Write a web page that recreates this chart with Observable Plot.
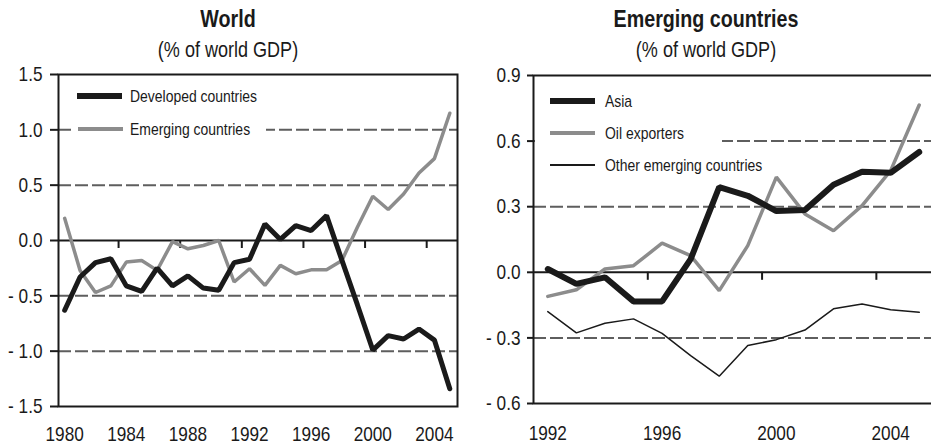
<!DOCTYPE html>
<html>
<head>
<meta charset="utf-8">
<script src="https://cdn.jsdelivr.net/npm/d3@7"></script>
<script src="https://cdn.jsdelivr.net/npm/@observablehq/plot@0.6"></script>
<style>
  html, body { margin: 0; padding: 0; background: #fff; overflow: hidden; }
  body { width: 931px; height: 447px; position: relative; font-family: "Liberation Sans", Arial, sans-serif; color: #1a1a1a; }
  .panel { position: absolute; top: 0; height: 447px; }
  .title { position: absolute; font-weight: bold; font-size: 24px; line-height: 1; text-align: center; white-space: nowrap; transform: scaleX(0.82); transform-origin: 50% 50%; }
  .subtitle { position: absolute; font-size: 22px; line-height: 1; text-align: center; white-space: nowrap; transform: scaleX(0.82); transform-origin: 50% 50%; }
  .chart { position: absolute; top: 62px; left: 0; }
  .legend { position: absolute; background: #fff; }
  .legend .sw { position: absolute; left: 0; width: 45px; }
  .legend .lab { position: absolute; font-size: 17px; line-height: 1; white-space: nowrap; transform: translateY(-50%) scaleX(0.82); transform-origin: 0 50%; }
</style>
</head>
<body>
<script>
// ---------- Data: World (% of world GDP) ----------
const worldYears = [1980,1981,1982,1983,1984,1985,1986,1987,1988,1989,1990,1991,1992,1993,1994,1995,1996,1997,1998,1999,2000,2001,2002,2003,2004,2005];
const developedCountries = [-0.63,-0.33,-0.20,-0.165,-0.41,-0.46,-0.25,-0.41,-0.32,-0.43,-0.45,-0.20,-0.17,0.15,0.01,0.135,0.09,0.225,-0.18,-0.58,-0.99,-0.86,-0.89,-0.80,-0.90,-1.34];
const emergingCountries = [0.20,-0.27,-0.47,-0.41,-0.195,-0.18,-0.27,-0.01,-0.075,-0.045,0.0,-0.375,-0.255,-0.405,-0.225,-0.30,-0.265,-0.265,-0.18,0.12,0.40,0.28,0.42,0.61,0.74,1.15];
const worldYTicks = [1.5,1.0,0.5,0.0,-0.5,-1.0,-1.5];
const worldGrid = [1.0,0.5,-0.5,-1.0];
const worldXLabels = [1980,1984,1988,1992,1996,2000,2004];
const worldXTickMarks = [1983.5,1987.5,1991.5,1995.5,1999.5,2003.5];

// ---------- Data: Emerging countries (% of world GDP) ----------
const emYears = [1992,1993,1994,1995,1996,1997,1998,1999,2000,2001,2002,2003,2004,2005];
const asia = [0.015,-0.053,-0.023,-0.133,-0.133,0.06,0.39,0.35,0.28,0.285,0.40,0.46,0.455,0.55];
const oilExporters = [-0.11,-0.08,0.015,0.03,0.133,0.076,-0.084,0.122,0.435,0.267,0.19,0.305,0.465,0.765];
const otherEmerging = [-0.18,-0.277,-0.233,-0.213,-0.279,-0.381,-0.475,-0.335,-0.308,-0.264,-0.167,-0.145,-0.171,-0.183];
const emYTicks = [0.9,0.6,0.3,0.0,-0.3,-0.6];
const emGrid = [0.6,0.3,-0.3];
const emXLabels = [1992,1996,2000,2004];
const emXTickMarks = [1995.5,1999.5,2003.5];

const BLACK = "#1a1a1a";
const GREY = "#8c8c8c";
const GRID = "#5e5e5e";
const NARROW = 0.82;
const fmt = d => d < 0 ? "- " + Math.abs(d).toFixed(1) : d.toFixed(1);

function toRows(years, values) { return years.map((x, i) => ({x, y: values[i]})); }

// Narrow the tick-label glyphs horizontally around their own anchor point.
function condenseSvgText(svg) {
  svg.querySelectorAll("text").forEach(t => {
    const tr = t.getAttribute("transform") || "";
    t.setAttribute("transform", tr + ` scale(${NARROW},1)`);
  });
}

function makePanel({left, width, title, subtitle, titleCenter}) {
  const p = document.createElement("div");
  p.className = "panel";
  p.style.left = left + "px";
  p.style.width = width + "px";
  const t = document.createElement("div");
  t.className = "title"; t.textContent = title;
  t.style.left = (titleCenter - 150) + "px"; t.style.width = "300px"; t.style.top = "7px";
  const s = document.createElement("div");
  s.className = "subtitle"; s.textContent = subtitle;
  s.style.left = (titleCenter - 150) + "px"; s.style.width = "300px"; s.style.top = "39px";
  p.appendChild(t); p.appendChild(s);
  document.body.appendChild(p);
  return p;
}

function makeLegend(panel, box, items) {
  const lg = document.createElement("div");
  lg.className = "legend";
  Object.assign(lg.style, {left: box.left + "px", top: box.top + "px", width: box.width + "px", height: box.height + "px"});
  for (const it of items) {
    const sw = document.createElement("div");
    sw.className = "sw";
    Object.assign(sw.style, {left: it.swLeft + "px", top: (it.cy - it.thick / 2) + "px", height: it.thick + "px", background: it.color});
    const lab = document.createElement("div");
    lab.className = "lab"; lab.textContent = it.label;
    Object.assign(lab.style, {left: it.textLeft + "px", top: it.cy + "px"});
    lg.appendChild(sw); lg.appendChild(lab);
  }
  panel.appendChild(lg);
}

const style = {fontFamily: "'Liberation Sans', Arial, sans-serif", fontSize: "21px", color: BLACK, background: "transparent", overflow: "visible"};
const DASH = "13,4";

// ---------- Left chart ----------
const leftPanel = makePanel({left: 0, width: 466, title: "World", subtitle: "(% of world GDP)", titleCenter: 228});
const leftChart = Plot.plot({
  width: 466, height: 385,
  marginTop: 12, marginBottom: 41, marginLeft: 58, marginRight: 9,
  style,
  x: {domain: [1979.6, 2005.5]},
  y: {domain: [-1.5, 1.5]},
  marks: [
    Plot.ruleY(worldGrid, {stroke: GRID, strokeWidth: 2, strokeDasharray: DASH}),
    Plot.ruleY([0], {stroke: BLACK, strokeWidth: 2}),
    Plot.ruleX(worldXTickMarks, {x: d => d, y1: 0, y2: 0, insetBottom: -8, stroke: BLACK, strokeWidth: 2}),
    Plot.line(toRows(worldYears, emergingCountries), {x: "x", y: "y", stroke: GREY, strokeWidth: 3.5, strokeLinejoin: "miter"}),
    Plot.line(toRows(worldYears, developedCountries), {x: "x", y: "y", stroke: BLACK, strokeWidth: 5, strokeLinejoin: "miter"}),
    Plot.axisY({ticks: worldYTicks, tickFormat: fmt, tickSize: 8, tickPadding: 8, stroke: BLACK, strokeWidth: 2, label: null}),
    Plot.axisX({ticks: worldXLabels, tickFormat: d => String(d), tickSize: 0, tickPadding: 20, label: null}),
    Plot.frame({stroke: BLACK, strokeWidth: 2})
  ]
});
condenseSvgText(leftChart);
leftChart.classList.add("chart");
leftPanel.appendChild(leftChart);
makeLegend(leftPanel, {left: 72, top: 82, width: 194, height: 62}, [
  {label: "Developed countries", color: BLACK, thick: 6, cy: 14, swLeft: 5, textLeft: 58},
  {label: "Emerging countries", color: GREY, thick: 4, cy: 47, swLeft: 6, textLeft: 58}
]);

// ---------- Right chart ----------
const rightPanel = makePanel({left: 465, width: 468, title: "Emerging countries", subtitle: "(% of world GDP)", titleCenter: 241});
const rightChart = Plot.plot({
  width: 468, height: 385,
  marginTop: 13, marginBottom: 44, marginLeft: 68, marginRight: 0,
  style,
  x: {domain: [1991.5, 2005.5]},
  y: {domain: [-0.6, 0.9]},
  marks: [
    Plot.ruleY(emGrid, {stroke: GRID, strokeWidth: 2, strokeDasharray: DASH}),
    Plot.ruleY([0], {stroke: BLACK, strokeWidth: 2}),
    Plot.ruleX(emXTickMarks, {x: d => d, y1: 0, y2: 0, insetBottom: -8, stroke: BLACK, strokeWidth: 2}),
    Plot.line(toRows(emYears, otherEmerging), {x: "x", y: "y", stroke: BLACK, strokeWidth: 1.5, strokeLinejoin: "miter"}),
    Plot.line(toRows(emYears, oilExporters), {x: "x", y: "y", stroke: GREY, strokeWidth: 3.5, strokeLinejoin: "miter"}),
    Plot.line(toRows(emYears, asia), {x: "x", y: "y", stroke: BLACK, strokeWidth: 6, strokeLinejoin: "miter"}),
    Plot.axisY({ticks: emYTicks, tickFormat: fmt, tickSize: 6, tickPadding: 7, stroke: BLACK, strokeWidth: 2, label: null}),
    Plot.axisX({ticks: emXLabels, tickFormat: d => String(d), tickSize: 0, tickPadding: 22, label: null}),
    Plot.frame({stroke: BLACK, strokeWidth: 2})
  ]
});
condenseSvgText(rightChart);
rightChart.classList.add("chart");
rightPanel.appendChild(rightChart);
makeLegend(rightPanel, {left: 70, top: 85, width: 187, height: 92}, [
  {label: "Asia", color: BLACK, thick: 6, cy: 16, swLeft: 15, textLeft: 70},
  {label: "Oil exporters", color: GREY, thick: 4, cy: 48, swLeft: 15, textLeft: 70},
  {label: "Other emerging countries", color: BLACK, thick: 1.5, cy: 80, swLeft: 15, textLeft: 70}
]);
</script>
</body>
</html>
